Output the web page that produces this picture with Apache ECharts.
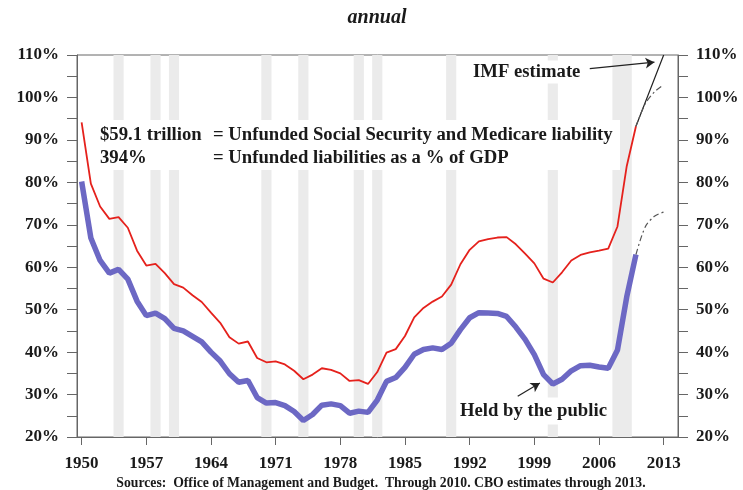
<!DOCTYPE html>
<html>
<head>
<meta charset="utf-8">
<script src="https://cdn.jsdelivr.net/npm/echarts@6.0.0/dist/echarts.min.js"></script>
<style>
  html, body { margin: 0; padding: 0; background: #fff; }
  #chart { width: 743px; height: 490px; }
</style>
</head>
<body>
<div id="chart"></div>
<script>
// fiscal years, actuals through 2010
const years = [];
for (let y = 1950; y <= 2010; y++) years.push(y);

// gross federal debt, % of GDP (red)
const grossDebt = [
  94.1, 79.7, 74.3, 71.4, 71.8, 69.3, 63.9, 60.4, 60.8, 58.6,
  56.0, 55.2, 53.4, 51.8, 49.3, 46.9, 43.5, 42.0, 42.5, 38.6,
  37.6, 37.8, 37.1, 35.6, 33.6, 34.7, 36.2, 35.8, 35.0, 33.2,
  33.4, 32.5, 35.3, 39.9, 40.7, 43.8, 48.2, 50.4, 51.9, 53.1,
  55.9, 60.7, 64.1, 66.1, 66.6, 67.0, 67.1, 65.4, 63.2, 60.9,
  57.3, 56.4, 58.8, 61.6, 62.9, 63.5, 63.9, 64.4, 69.6, 83.8,
  93.2
];

// debt held by the public, % of GDP (blue)
const heldByPublic = [
  80.2, 66.9, 61.6, 58.6, 59.5, 57.2, 52.0, 48.6, 49.2, 47.9,
  45.6, 45.0, 43.7, 42.4, 40.0, 37.9, 34.9, 32.9, 33.3, 29.3,
  28.0, 28.1, 27.4, 26.0, 23.9, 25.3, 27.5, 27.8, 27.4, 25.6,
  26.1, 25.8, 28.7, 33.1, 34.0, 36.4, 39.5, 40.6, 41.0, 40.6,
  42.1, 45.3, 48.1, 49.3, 49.2, 49.1, 48.4, 45.9, 43.0, 39.4,
  34.7, 32.5, 33.6, 35.6, 36.8, 36.9, 36.5, 36.2, 40.5, 53.0,
  63.0
];

// CBO / IMF projections
const projYears = [2010, 2011, 2012, 2013];
const grossProj = [93.2, 98.5, 101.3, 103.0];
const publicProj = [63.0, 69.5, 72.0, 73.0];
const imfEstimate = [93.2, 98.8, 104.4, 110.0];

// recession years (shaded)
const recessions = [1954, 1958, 1960, 1970, 1974, 1980, 1982, 1990, 2001, 2008, 2009];

const xTicks = [1950, 1957, 1964, 1971, 1978, 1985, 1992, 1999, 2006, 2013];

const serif = '"Liberation Serif", "DejaVu Serif", serif';
const ink = '#1a1a1a';
const axisGray = '#666';
const noteFont = 'bold 18.7px ' + serif;

const pairs = (xs, ys) => xs.map((x, i) => [x, ys[i]]);

const yAxisBase = {
  type: 'value',
  min: 20,
  max: 110,
  interval: 5,
  splitLine: { show: false },
  axisLine: { show: true, lineStyle: { color: axisGray } },
  axisTick: { show: true, length: 10, lineStyle: { color: axisGray } },
  axisLabel: {
    margin: 18,
    color: ink,
    fontFamily: serif,
    fontWeight: 'bold',
    fontSize: 17,
    formatter: v => (v % 10 === 0 ? v + '%' : '')
  }
};

const chart = echarts.init(document.getElementById('chart'));

chart.setOption({
  animation: false,
  backgroundColor: '#fff',
  grid: { left: 77, right: 65, top: 55, bottom: 53, show: true, borderColor: axisGray, borderWidth: 1 },
  xAxis: {
    type: 'value',
    min: 1949.5,
    max: 2014.55,
    splitLine: { show: false },
    axisLine: { lineStyle: { color: axisGray } },
    axisTick: { show: true, length: 8, customValues: xTicks, lineStyle: { color: axisGray } },
    axisLabel: {
      customValues: xTicks,
      margin: 18,
      color: ink,
      fontFamily: serif,
      fontWeight: 'bold',
      fontSize: 17,
      formatter: v => String(v)
    }
  },
  yAxis: [
    Object.assign({}, yAxisBase, { position: 'left' }),
    Object.assign({}, yAxisBase, { position: 'right' })
  ],
  series: [
    {
      name: 'recessions',
      type: 'line',
      data: [],
      z: 1,
      markArea: {
        silent: true,
        itemStyle: { color: '#ebebeb' },
        data: recessions.map(y => [{ xAxis: y - 0.55 }, { xAxis: y + 0.55 }])
      }
    },
    {
      name: 'Gross debt',
      type: 'line',
      z: 5,
      symbol: 'none',
      data: pairs(years, grossDebt),
      lineStyle: { color: '#e5211c', width: 1.8 }
    },
    {
      name: 'Held by the public',
      type: 'line',
      z: 5,
      symbol: 'none',
      data: pairs(years, heldByPublic),
      lineStyle: { color: '#6c68c4', width: 5.5 }
    },
    {
      name: 'IMF estimate',
      type: 'line',
      z: 6,
      symbol: 'none',
      data: pairs(projYears, imfEstimate),
      lineStyle: { color: '#222', width: 1.2 },
      markLine: {
        silent: true,
        symbol: ['none', 'arrow'],
        symbolSize: [8, 9],
        label: { show: false },
        lineStyle: { color: '#222', width: 1.2, type: 'solid' },
        data: [
          [{ coord: [2005.0, 106.8] }, { coord: [2012.0, 108.3] }],
          [{ coord: [1997.2, 29.6] }, { coord: [1999.6, 32.7] }]
        ]
      }
    },
    {
      name: 'Gross projection',
      type: 'line',
      z: 6,
      symbol: 'none',
      smooth: 0.3,
      data: pairs(projYears, grossProj),
      lineStyle: { color: '#555', width: 1.2, type: [6, 3, 2, 3] }
    },
    {
      name: 'Public projection',
      type: 'line',
      z: 6,
      symbol: 'none',
      smooth: 0.3,
      data: pairs(projYears, publicProj),
      lineStyle: { color: '#555', width: 1.2, type: [6, 3, 2, 3] }
    }
  ],
  graphic: {
    elements: [
      {
        type: 'text', x: 377, y: 18, z: 3,
        style: { text: 'annual', font: 'italic bold 20px ' + serif, fill: ink, textAlign: 'center', textVerticalAlign: 'middle' }
      },
      {
        type: 'rect', z: 3, shape: { x: 96, y: 120, width: 524, height: 50 },
        style: { fill: '#fff' }
      },
      {
        type: 'text', x: 100, y: 135, z: 4,
        style: { text: '$59.1 trillion', font: noteFont, fill: ink, textVerticalAlign: 'middle' }
      },
      {
        type: 'text', x: 213, y: 135, z: 4,
        style: { text: '= Unfunded Social Security and Medicare liability', font: noteFont, fill: ink, textVerticalAlign: 'middle' }
      },
      {
        type: 'text', x: 100, y: 158, z: 4,
        style: { text: '394%', font: noteFont, fill: ink, textVerticalAlign: 'middle' }
      },
      {
        type: 'text', x: 213, y: 158, z: 4,
        style: { text: '= Unfunded liabilities as a % of GDP', font: noteFont, fill: ink, textVerticalAlign: 'middle' }
      },
      {
        type: 'text', x: 470, y: 72, z: 4,
        style: {
          text: 'IMF estimate', font: noteFont, fill: ink, textVerticalAlign: 'middle',
          backgroundColor: '#fff', padding: [2, 3]
        }
      },
      {
        type: 'text', x: 457, y: 411, z: 4,
        style: {
          text: 'Held by the public', font: noteFont, fill: ink, textVerticalAlign: 'middle',
          backgroundColor: '#fff', padding: [4, 3]
        }
      },
      {
        type: 'text', x: 381, y: 483, z: 4,
        style: {
          text: 'Sources:  Office of Management and Budget.  Through 2010. CBO estimates through 2013.',
          font: 'bold 13.7px ' + serif, fill: ink, textAlign: 'center', textVerticalAlign: 'middle'
        }
      }
    ]
  }
});
</script>
</body>
</html>
